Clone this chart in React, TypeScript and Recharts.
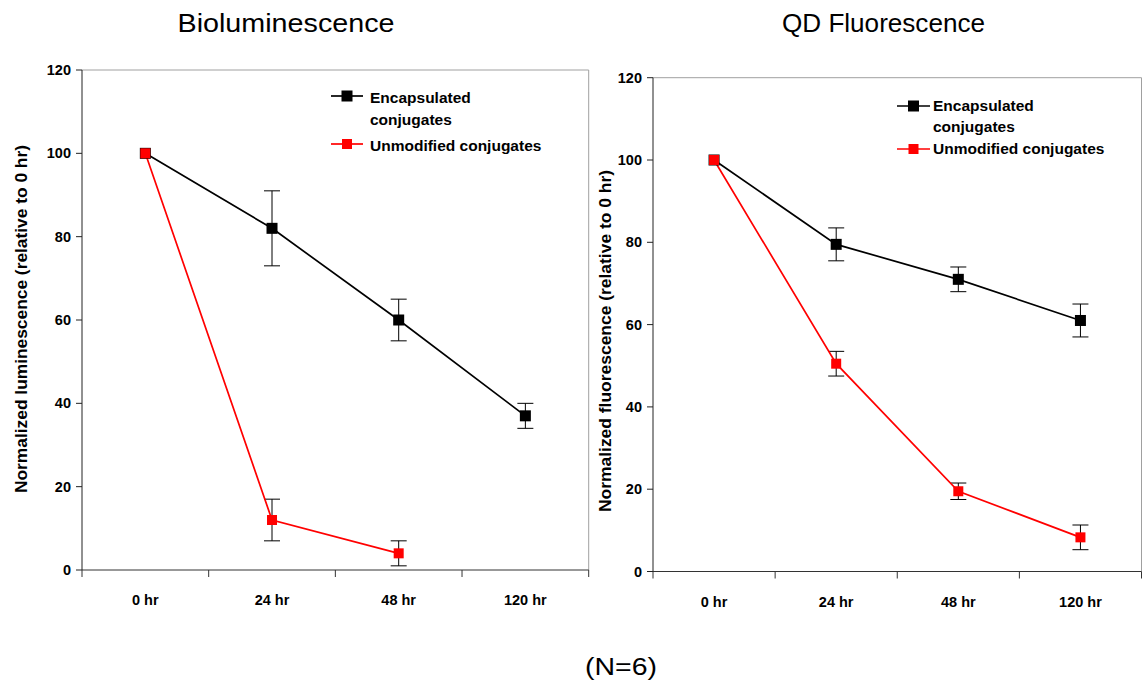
import React from 'react';
import { LineChart, Line, XAxis, YAxis, ErrorBar, ReferenceLine, Legend } from 'recharts';

const FONT = '"Liberation Sans", Arial, Helvetica, sans-serif';

const categories = ['0 hr', '24 hr', '48 hr', '120 hr'];
const yTicks = [0, 20, 40, 60, 80, 100, 120];
const seriesNames = ['Encapsulated conjugates', 'Unmodified conjugates'];

const bioEncapsulated = [100, 82, 60, 37];
const bioEncapsulatedErr = [0, 9, 5, 3];
const bioUnmodified: (number | null)[] = [100, 12, 4, null];
const bioUnmodifiedErr: (number | null)[] = [0, 5, 3, null];

const qdEncapsulated = [100, 79.5, 71, 61];
const qdEncapsulatedErr = [0, 4, 3, 4];
const qdUnmodified = [100, 50.5, 19.5, 8.3];
const qdUnmodifiedErr = [0, 3, 2, 3];

const buildData = (enc: any[], encErr: any[], unm: any[], unmErr: any[]) =>
  categories.map((c, i) => ({
    pos: i + 0.5,
    category: c,
    enc: enc[i],
    encErr: encErr[i],
    unm: unm[i],
    unmErr: unmErr[i],
  }));

const bioData = buildData(bioEncapsulated, bioEncapsulatedErr, bioUnmodified, bioUnmodifiedErr);
const qdData = buildData(qdEncapsulated, qdEncapsulatedErr, qdUnmodified, qdUnmodifiedErr);

const xTicks: number[] = [];
for (let i = 0; i <= categories.length; i++) {
  xTicks.push(i);
  if (i < categories.length) xTicks.push(i + 0.5);
}

const XTick = (props: any) => {
  const { x, y, payload } = props;
  const v = payload.value;
  if (Number.isInteger(v)) {
    return <line x1={x} x2={x} y1={y - 7} y2={y} stroke="#333" strokeWidth={1} />;
  }
  return (
    <text x={x} y={y + 28} textAnchor="middle" fontFamily={FONT} fontWeight="bold" fontSize={14.5} fill="#000">
      {categories[Math.floor(v)]}
    </text>
  );
};

const makeSquare = (size: number, fill: string) => (props: any) => {
  const { cx, cy, index } = props;
  if (cx == null || cy == null || Number.isNaN(cy)) return <g key={`e-${index}`} />;
  return <rect key={`s-${index}`} x={cx - size / 2} y={cy - size / 2} width={size} height={size} fill={fill} />;
};

type LegendGeom = {
  lineX1: number; lineX2: number; sqX: number; textX: number;
  blackY: number; encBase: number; conjBase: number; redY: number; unmBase: number;
};

const LegendBox = ({ g }: { g: LegendGeom }) => (
  <svg width={250} height={75} style={{ display: 'block' }}>
    <line x1={g.lineX1} x2={g.lineX2} y1={g.blackY} y2={g.blackY} stroke="#000" strokeWidth={1.7} />
    <rect x={g.sqX - 5.5} y={g.blackY - 5.5} width={11} height={11} fill="#000" />
    <text x={g.textX} y={g.encBase} fontFamily={FONT} fontWeight="bold" fontSize={15.5} fill="#000">Encapsulated</text>
    <text x={g.textX} y={g.conjBase} fontFamily={FONT} fontWeight="bold" fontSize={15.5} fill="#000">conjugates</text>
    <line x1={g.lineX1} x2={g.lineX2} y1={g.redY} y2={g.redY} stroke="#ff0000" strokeWidth={1.7} />
    <rect x={g.sqX - 5} y={g.redY - 5} width={10} height={10} fill="#ff0000" />
    <text x={g.textX} y={g.unmBase} fontFamily={FONT} fontWeight="bold" fontSize={15.5} fill="#000">Unmodified conjugates</text>
  </svg>
);

type PanelProps = {
  data: any[];
  left: number;
  width: number;
  plotTop: number;
  axisY: number;
  yAxisWidth: number;
  rightMargin: number;
  yLabel: string;
  yLabelX: number;
  yLabelY: number;
  yLabelLen: number;
  legendLeft: number;
  legendTop: number;
  legend: LegendGeom;
};

const CHART_H = 640;
const XAXIS_H = 40;

const Panel = (p: PanelProps) => (
  <div style={{ position: 'absolute', left: p.left, top: 0 }}>
    <LineChart
      width={p.width}
      height={CHART_H}
      data={p.data}
      margin={{ top: p.plotTop, right: p.rightMargin, left: 0, bottom: CHART_H - p.axisY - XAXIS_H }}
    >
      <XAxis
        dataKey="pos"
        type="number"
        domain={[0, categories.length]}
        ticks={xTicks}
        interval={0}
        allowDecimals
        tickLine={false}
        tickSize={7}
        tickMargin={0}
        height={XAXIS_H}
        axisLine={{ stroke: '#333', strokeWidth: 1 }}
        tick={<XTick />}
      />
      <YAxis
        type="number"
        domain={[0, 120]}
        ticks={yTicks}
        interval={0}
        width={p.yAxisWidth}
        tickSize={6}
        tickMargin={5}
        axisLine={{ stroke: '#222', strokeWidth: 1 }}
        tickLine={{ stroke: '#222', strokeWidth: 1 }}
        tick={{ fontFamily: FONT, fontWeight: 'bold', fontSize: 14.5, fill: '#000' }}
        label={{
          content: () => (
            <text
              x={p.yLabelX}
              y={p.yLabelY}
              transform={`rotate(-90 ${p.yLabelX} ${p.yLabelY})`}
              textAnchor="middle"
              dominantBaseline="central"
              fontFamily={FONT}
              fontWeight="bold"
              fontSize={16}
              fill="#000"
              textLength={p.yLabelLen}
              lengthAdjust="spacingAndGlyphs"
            >
              {p.yLabel}
            </text>
          ),
        }}
      />
      <ReferenceLine y={120} stroke="#a0a0a0" strokeWidth={1} />
      <ReferenceLine x={categories.length} stroke="#a0a0a0" strokeWidth={1} />
      <Legend
        layout="horizontal"
        verticalAlign="middle"
        align="center"
        wrapperStyle={{ left: p.legendLeft, top: p.legendTop, width: 250, height: 75 }}
        content={() => <LegendBox g={p.legend} />}
      />
      <Line
        name={seriesNames[0]}
        dataKey="enc"
        stroke="#000"
        strokeWidth={1.7}
        isAnimationActive={false}
        dot={makeSquare(11, '#000')}
        activeDot={false}
      >
        <ErrorBar dataKey="encErr" width={8} stroke="#000" strokeWidth={1} direction="y" />
      </Line>
      <Line
        name={seriesNames[1]}
        dataKey="unm"
        stroke="#ff0000"
        strokeWidth={1.7}
        isAnimationActive={false}
        dot={makeSquare(10, '#ff0000')}
        activeDot={false}
      >
        <ErrorBar dataKey="unmErr" width={8} stroke="#000" strokeWidth={1} direction="y" />
      </Line>
    </LineChart>
  </div>
);

export default function App() {
  return (
    <div style={{ position: 'absolute', left: 0, top: 0, width: 1143, height: 687, background: '#fff', overflow: 'hidden' }}>
      <svg width={1143} height={687} style={{ position: 'absolute', left: 0, top: 0 }}>
        <text x={286} y={32} textAnchor="middle" fontFamily={FONT} fontSize={25} fill="#000" textLength={217} lengthAdjust="spacingAndGlyphs">
          Bioluminescence
        </text>
        <text x={883.5} y={32} textAnchor="middle" fontFamily={FONT} fontSize={25} fill="#000" textLength={203} lengthAdjust="spacingAndGlyphs">
          QD Fluorescence
        </text>
        <text x={621} y={675} textAnchor="middle" fontFamily={FONT} fontSize={23} fill="#000" textLength={72} lengthAdjust="spacingAndGlyphs">
          (N=6)
        </text>
      </svg>
      <Panel
        data={bioData}
        left={0}
        width={600}
        plotTop={70}
        axisY={570}
        yAxisWidth={82}
        rightMargin={11.3}
        yLabel="Normalized luminescence (relative to 0 hr)"
        yLabelX={21}
        yLabelY={319}
        yLabelLen={348}
        legendLeft={325}
        legendTop={85}
        legend={{ lineX1: 6, lineX2: 38, sqX: 22, textX: 45, blackY: 11, encBase: 18, conjBase: 40, redY: 59, unmBase: 66 }}
      />
      <Panel
        data={qdData}
        left={560}
        width={583}
        plotTop={77.7}
        axisY={571.5}
        yAxisWidth={93}
        rightMargin={1.5}
        yLabel="Normalized fluorescence (relative to 0 hr)"
        yLabelX={45}
        yLabelY={341}
        yLabelLen={342}
        legendLeft={332}
        legendTop={95}
        legend={{ lineX1: 5, lineX2: 38, sqX: 21.5, textX: 41, blackY: 11, encBase: 16, conjBase: 37, redY: 54, unmBase: 59 }}
      />
    </div>
  );
}
